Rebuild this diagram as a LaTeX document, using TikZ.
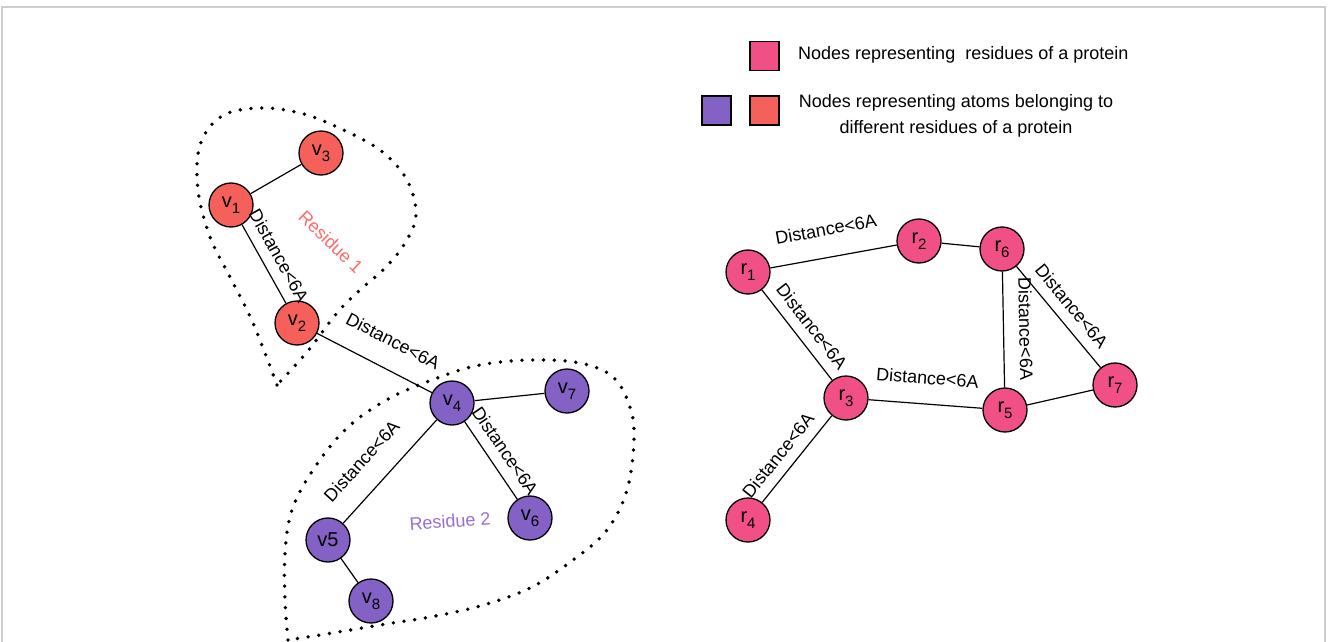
\documentclass[tikz,border=0pt]{standalone}
\usepackage{fontspec}
\setmainfont{Liberation Sans}
\definecolor{atomred}{RGB}{245,96,90}
\definecolor{atompurple}{RGB}{131,97,197}
\definecolor{respink}{RGB}{241,80,134}
\definecolor{resonecol}{RGB}{255,105,105}
\definecolor{restwocol}{RGB}{150,112,212}
\definecolor{framegray}{RGB}{205,205,205}
\newcommand\lsub[1]{\raisebox{-0.3em}{\fontsize{15}{15}\selectfont #1}}
\begin{document}
\begin{tikzpicture}[x=1pt,y=-1pt,
  every node/.style={font=\fontsize{18}{20}\selectfont},
  atom/.style={circle, draw=black, line width=1.3pt, minimum size=44pt, inner sep=0pt, font=\fontsize{20}{22}\selectfont},
  redatom/.style={atom, fill=atomred},
  purpleatom/.style={atom, fill=atompurple},
  resnode/.style={atom, fill=respink},
  edge/.style={line width=1.2pt, black},
  lbl/.style={sloped, above=8pt, inner sep=2pt},
  resborder/.style={line width=3.8pt, dash pattern=on 0pt off 10.8pt, line cap=round},
  legsq/.style={rectangle, draw=black, line width=1.2pt, minimum size=29pt, inner sep=0pt}
]
\useasboundingbox (0,0) rectangle (1328,642);
\draw[framegray, line width=1.2pt] (2,642) -- (2,7) -- (1325,7) -- (1325,642);

% residue borders
\draw[resborder] plot[smooth, tension=0.6] coordinates {(277,385) (253,323) (230,277) (210,237) (198,190) (200,145) (222,116) (260,108) (300,113) (337,127) (380,150) (407,180) (416,215) (405,243) (385,268) (360,290) (337,313) (307,352) (277,385)};
\draw[resborder] plot[smooth, tension=0.6] coordinates {(288,640) (285,600) (285,553) (292,510) (313,470) (347,428) (390,398) (440,377) (480,365) (530,360) (580,363) (613,377) (630,407) (634,440) (627,490) (607,530) (573,560) (530,588) (480,606) (430,617) (380,625) (320,635) (288,640)};

% atom nodes
\node[redatom] (v1) at (231,205) {v\lsub{1}};
\node[redatom] (v3) at (321,153) {v\lsub{3}};
\node[redatom] (v2) at (297,323) {v\lsub{2}};
\node[purpleatom] (v4) at (452,403) {v\lsub{4}};
\node[purpleatom] (v7) at (567,391) {v\lsub{7}};
\node[purpleatom] (v5) at (328,540) {v5};
\node[purpleatom] (v6) at (530,518) {v\lsub{6}};
\node[purpleatom] (v8) at (371,601) {v\lsub{8}};

% residue nodes
\node[resnode] (r1) at (748,272) {r\lsub{1}};
\node[resnode] (r2) at (919,241) {r\lsub{2}};
\node[resnode] (r6) at (1002,249) {r\lsub{6}};
\node[resnode] (r3) at (846,398) {r\lsub{3}};
\node[resnode] (r5) at (1005,410) {r\lsub{5}};
\node[resnode] (r7) at (1115,385) {r\lsub{7}};
\node[resnode] (r4) at (748,520) {r\lsub{4}};

% atom edges
\draw[edge] (v1) -- (v3);
\draw[edge] (v1) -- node[lbl, pos=0.5] (l12) {Distance<6A} (v2);
\draw[edge] (v2) -- node[lbl, pos=0.55, above=11pt] (l24) {Distance<6A} (v4);
\draw[edge] (v4) -- (v7);
\draw[edge] (v5) -- node[lbl, pos=0.42, above=11pt] (l54) {Distance<6A} (v4);
\draw[edge] (v4) -- node[lbl, pos=0.5] (l46) {Distance<6A} (v6);
\draw[edge] (v5) -- (v8);

% residue edges
\draw[edge] (r1) -- node[lbl, pos=0.48, above=11pt] (lr12) {Distance<6A} (r2);
\draw[edge] (r2) -- (r6);
\draw[edge] (r1) -- node[lbl, pos=0.52] (lr13) {Distance<6A} (r3);
\draw[edge] (r3) -- node[lbl, pos=0.5, above=9pt] (lr35) {Distance<6A} (r5);
\draw[edge] (r6) -- node[lbl, pos=0.5, above=5pt] (lr65) {Distance<6A} (r5);
\draw[edge] (r6) -- node[lbl, pos=0.5] (lr67) {Distance<6A} (r7);
\draw[edge] (r5) -- (r7);
\draw[edge] (r4) -- node[lbl, pos=0.42] (lr43) {Distance<6A} (r3);

% residue labels
\node[text=resonecol, rotate=-44] (res1) at (331,242) {Residue 1};
\node[text=restwocol, rotate=4] (res2) at (450,521) {Residue 2};

% legend
\node[legsq, fill=respink] (lg1) at (764.5,56) {};
\node[legsq, fill=atompurple] (lg2) at (716.5,110.5) {};
\node[legsq, fill=atomred] (lg3) at (764.5,110.5) {};
\node[anchor=west, inner sep=0pt] (lt1) at (798,55) {Nodes representing\ \ residues of a protein};
\node[align=center, inner sep=0pt, font=\fontsize{18}{26}\selectfont] (lt2) at (956,116) {Nodes representing atoms belonging to\\different residues of a protein};
\end{tikzpicture}
\end{document}
